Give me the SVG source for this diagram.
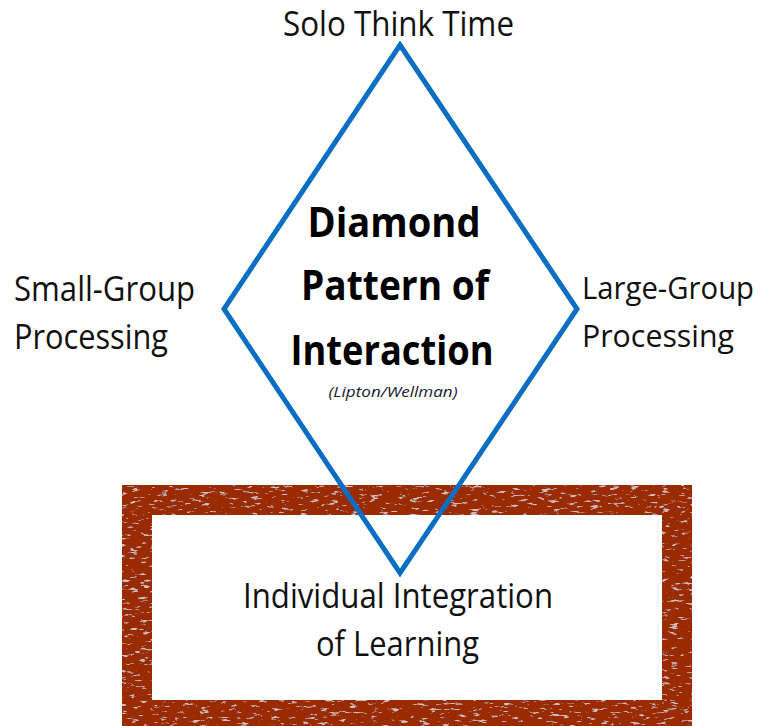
<svg xmlns="http://www.w3.org/2000/svg" width="765" height="726" viewBox="0 0 765 726">
<defs>
<style>
.lbl{font-family:"Open Sans","Noto Sans","Liberation Sans",sans-serif;font-size:34px;fill:#111;}
.lblr{font-size:31px;}
.ttl{font-family:"Open Sans","Noto Sans","Liberation Sans",sans-serif;font-size:42px;font-weight:bold;fill:#000;}
.cite{font-family:"Open Sans","Noto Sans","Liberation Sans",sans-serif;font-size:14px;font-style:italic;fill:#1a1a2e;}
.dia{fill:none;stroke:#0a6fc2;stroke-width:5;stroke-linejoin:miter;}
.frame{fill:#9a2c06;fill-rule:evenodd;}
</style>
<filter id="grunge" x="0" y="0" width="100%" height="100%">
<feTurbulence type="fractalNoise" baseFrequency="0.1 0.35" numOctaves="4" seed="7" result="n"/>
<feColorMatrix in="n" type="matrix" values="0 0 0 0 1  0 0 0 0 1  0 0 0 0 1  8 0 0 0 -5" result="spots"/>
<feComposite in="spots" in2="SourceGraphic" operator="in" result="s2"/>
<feComponentTransfer in="s2" result="s3"><feFuncA type="linear" slope="0.5"/></feComponentTransfer>
<feMerge><feMergeNode in="SourceGraphic"/><feMergeNode in="s3"/></feMerge>
</filter>
</defs>
<rect width="765" height="726" fill="#fff"/>
<g id="frame">
<path class="frame" filter="url(#grunge)" d="M122,485 H692 V726 H122 Z M152,515 V700 H662 V515 Z"/>
</g>
<g id="diamond">
<polygon class="dia" points="400,45 577,309 400,573 224,309"/>
</g>
<g id="title">
<text class="ttl" x="394" y="237" text-anchor="middle" textLength="173" lengthAdjust="spacingAndGlyphs">Diamond</text>
<text class="ttl" x="395" y="300" text-anchor="middle" textLength="188" lengthAdjust="spacingAndGlyphs">Pattern of</text>
<text class="ttl" x="392" y="365" text-anchor="middle" textLength="203" lengthAdjust="spacingAndGlyphs">Interaction</text>
<text class="cite" x="393" y="397" text-anchor="middle" textLength="129" lengthAdjust="spacingAndGlyphs">(Lipton/Wellman)</text>
</g>
<g id="solo">
<text class="lbl" x="283" y="36" textLength="231" lengthAdjust="spacingAndGlyphs">Solo Think Time</text>
</g>
<g id="small-group">
<text class="lbl" x="14" y="301" textLength="181" lengthAdjust="spacingAndGlyphs">Small-Group</text>
<text class="lbl" x="14" y="349" textLength="154" lengthAdjust="spacingAndGlyphs">Processing</text>
</g>
<g id="large-group">
<text class="lbl lblr" x="582" y="299" textLength="172" lengthAdjust="spacingAndGlyphs">Large-Group</text>
<text class="lbl lblr" x="582" y="347" textLength="152" lengthAdjust="spacingAndGlyphs">Processing</text>
</g>
<g id="individual">
<text class="lbl" x="243" y="608" textLength="310" lengthAdjust="spacingAndGlyphs">Individual Integration</text>
<text class="lbl" x="316" y="656" textLength="163" lengthAdjust="spacingAndGlyphs">of Learning</text>
</g>
</svg>
